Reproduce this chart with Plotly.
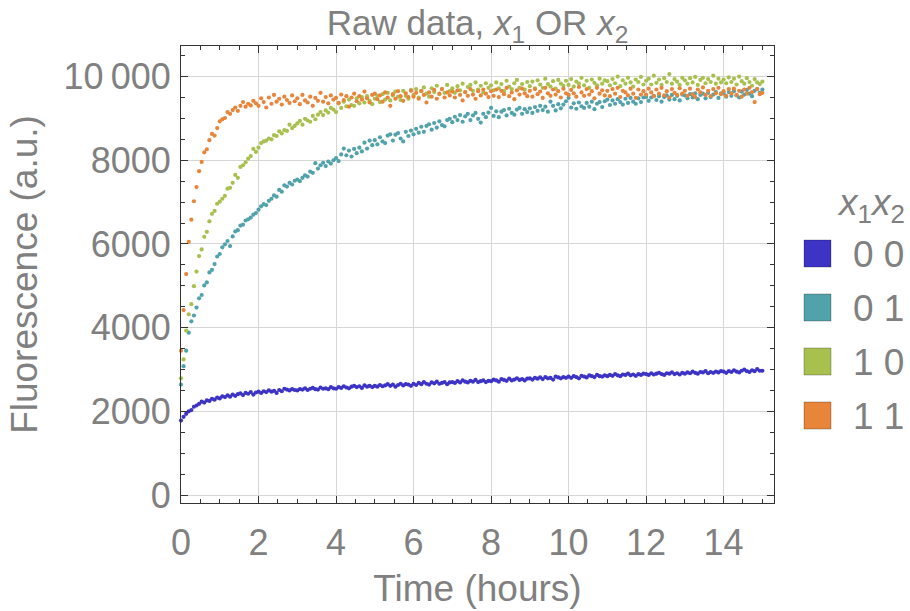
import plotly.graph_objects as go

# ---------------- data ----------------
# samples every 4 minutes (1/15 h) from 0 to 15 h
series_names = ["0 0", "0 1", "1 0", "1 1"]
colors = ["#3d33c4", "#52a2ac", "#a8c04e", "#e8853a"]

fluor_00 = [
    1780, 1870, 1940, 2000, 2030, 2110, 2140, 2180, 2230, 2210, 2260, 2250, 2300, 2280, 2330,
    2310, 2360, 2340, 2380, 2350, 2400, 2370, 2410, 2430, 2390, 2440, 2420, 2460, 2400, 2450,
    2470, 2440, 2480, 2460, 2500, 2470, 2490, 2440, 2510, 2480, 2540, 2520, 2500, 2530, 2510,
    2500, 2530, 2520, 2550, 2510, 2540, 2560, 2530, 2520, 2570, 2540, 2550, 2530, 2580, 2550,
    2540, 2580, 2560, 2600, 2570, 2550, 2590, 2610, 2580, 2600, 2560, 2620, 2590, 2610, 2580,
    2610, 2590, 2630, 2600, 2620, 2650, 2610, 2640, 2590, 2630, 2660, 2620, 2650, 2640, 2610,
    2660, 2630, 2680, 2650, 2700, 2660, 2640, 2690, 2670, 2710, 2660, 2680, 2700, 2650, 2690,
    2700, 2680, 2720, 2690, 2740, 2710, 2690, 2730, 2710, 2750, 2700, 2720, 2740, 2700, 2730,
    2720, 2760, 2740, 2710, 2770, 2750, 2730, 2780, 2740, 2760, 2790, 2750, 2770, 2740, 2780,
    2790, 2760, 2800, 2780, 2810, 2770, 2820, 2790, 2800, 2760, 2830, 2810, 2790, 2820, 2800,
    2830, 2800, 2840, 2820, 2790, 2850, 2830, 2810, 2860, 2840, 2820, 2870, 2840, 2830, 2860,
    2840, 2870, 2850, 2890, 2860, 2840, 2880, 2870, 2900, 2860, 2880, 2850, 2890, 2870, 2900,
    2890, 2870, 2910, 2880, 2900, 2920, 2890, 2870, 2910, 2900, 2930, 2890, 2910, 2880, 2920,
    2900, 2930, 2910, 2950, 2920, 2900, 2940, 2930, 2960, 2910, 2940, 2920, 2950, 2930, 2960,
    2950, 2920, 2960, 2940, 2980, 2950, 2930, 2970, 3000, 2960, 2940, 2980, 2960, 3010, 2970,
    2970,
]

fluor_01 = [
    2640, 3080, 3450, 3880, 4150, 4290, 4480, 4700, 4780, 5010, 5080, 5320, 5380, 5520, 5700,
    5760, 5920, 5990, 6070, 5950, 6180, 6300, 6330, 6440, 6460, 6560, 6590, 6630, 6700, 6740,
    6820, 6900, 6950, 6930, 7030, 7080, 7160, 7130, 7290, 7250, 7400, 7370, 7460, 7420, 7510,
    7540, 7500, 7580, 7640, 7610, 7730, 7700, 7930, 7800, 7880, 7940, 7860, 7970, 7920, 8000,
    8050, 7980, 8140, 8280, 8120, 8230, 8090, 8270, 8170, 8300, 8210, 8420, 8280, 8470, 8360,
    8480, 8380, 8550, 8450, 8410, 8590, 8620, 8470, 8610, 8650, 8520, 8450, 8680, 8580, 8710,
    8620, 8750, 8660, 8800, 8680, 8820, 8860, 8730, 8890, 8780, 8930, 8840, 8810, 8960, 8990,
    8910, 9040, 8960, 9080, 8920, 9050, 9110, 8960, 9070, 9130, 8990, 8900, 9110, 9030, 9140,
    9250, 9060, 9170, 9030, 9160, 9200, 9070, 9230, 9130, 9090, 9210, 9250, 9110, 9220, 9150,
    9240, 9130, 9270, 9180, 9300, 9200, 9280, 9160, 9400, 9300, 9190, 9340, 9240, 9330, 9410,
    9490, 9260, 9360, 9230, 9380, 9290, 9250, 9370, 9280, 9400, 9220, 9350, 9390, 9270, 9410,
    9450, 9320, 9430, 9350, 9460, 9390, 9330, 9470, 9370, 9490, 9400, 9350, 9480, 9390, 9500,
    9510, 9420, 9500, 9540, 9440, 9530, 9400, 9510, 9550, 9450, 9560, 9460, 9540, 9430, 9570,
    9550, 9480, 9580, 9500, 9600, 9460, 9560, 9590, 9480, 9610, 9510, 9570, 9630, 9490, 9600,
    9600, 9520, 9630, 9540, 9650, 9550, 9500, 9640, 9570, 9680, 9590, 9530, 9660, 9700, 9610,
    9690,
]

fluor_10 = [
    2790, 3240, 3930, 4320, 4560, 4990, 5340, 5710, 5870, 6170, 6290, 6540, 6720, 6790, 6960,
    7010, 7080, 7150, 7320, 7340, 7460, 7650, 7580, 7840, 7880, 7950, 8040, 8100, 8270, 8200,
    8300, 8410, 8450, 8470, 8520, 8500, 8600, 8580, 8690, 8640, 8720, 8700, 8850, 8770, 8820,
    8880, 8940, 8850, 8990, 8950, 8920, 9060, 8980, 9090, 9150, 9080, 9190, 9140, 9250, 9210,
    9150, 9360, 9250, 9400, 9290, 9450, 9320, 9300, 9480, 9360, 9510, 9380, 9530, 9420, 9340,
    9470, 9540, 9390, 9580, 9450, 9610, 9430, 9550, 9640, 9520, 9440, 9660, 9540, 9470, 9680,
    9560, 9700, 9500, 9650, 9740, 9590, 9520, 9720, 9630, 9780, 9580, 9700, 9610, 9800, 9650,
    9720, 9610, 9770, 9670, 9830, 9630, 9750, 9800, 9660, 9860, 9690, 9780, 9620, 9840, 9730,
    9790, 9670, 9860, 9720, 9820, 9650, 9900, 9760, 9700, 9840, 9920, 9730, 9820, 9690, 9870,
    9770, 9880, 9720, 9910, 9810, 9730, 9950, 9820, 9760, 9890, 9710, 9920, 9830, 9780, 9900,
    9800, 9940, 9760, 9880, 9830, 9970, 9790, 9900, 9730, 9930, 9850, 9790, 9950, 9830, 9910,
    9890, 9790, 9940, 9840, 10000, 9770, 9910, 9830, 9970, 9860, 9760, 9930, 9870, 9990, 9810,
    9900, 9950, 9810, 10020, 9850, 9930, 9800, 9960, 9870, 10060, 9830, 9940, 9880, 9800, 9970,
    9910, 9830, 9960, 9860, 9990, 9800, 9920, 9970, 9840, 9940, 9870, 10020, 9830, 9950, 9860,
    9930, 9840, 9980, 9870, 9950, 9810, 10000, 9890, 9830, 9960, 9870, 9780, 9940, 9860, 9820,
    9880,
]

fluor_11 = [
    3450, 4420, 5280, 6050, 6580, 7020, 7360, 7740, 7960, 8190, 8260, 8480, 8630, 8590, 8770,
    8930, 8980, 9010, 9150, 9110, 9200, 9260, 9180, 9300, 9390, 9280, 9350, 9310, 9420, 9360,
    9300, 9480, 9390, 9260, 9500, 9350, 9560, 9400, 9470, 9330, 9520, 9440, 9370, 9550, 9410,
    9480, 9340, 9560, 9430, 9380, 9520, 9300, 9490, 9420, 9610, 9400, 9510, 9360, 9550, 9450,
    9490, 9370, 9570, 9440, 9530, 9280, 9500, 9590, 9410, 9530, 9450, 9640, 9480, 9380, 9560,
    9590, 9460, 9550, 9400, 9620, 9500, 9300, 9580, 9470, 9650, 9530, 9420, 9600, 9510, 9660,
    9520, 9610, 9470, 9660, 9560, 9380, 9620, 9520, 9680, 9470, 9590, 9700, 9500, 9620, 9550,
    9640, 9500, 9670, 9560, 9430, 9630, 9540, 9700, 9570, 9470, 9650, 9550, 9690, 9590, 9510,
    9650, 9540, 9690, 9510, 9660, 9580, 9730, 9530, 9620, 9460, 9670, 9570, 9710, 9600, 9530,
    9660, 9520, 9700, 9580, 9640, 9490, 9730, 9600, 9540, 9690, 9570, 9650, 9500, 9710, 9600,
    9560, 9680, 9600, 9520, 9750, 9620, 9540, 9700, 9570, 9650, 9480, 9730, 9590, 9670, 9550,
    9660, 9530, 9700, 9590, 9730, 9510, 9660, 9620, 9550, 9710, 9590, 9490, 9690, 9570, 9650,
    9570, 9710, 9620, 9530, 9690, 9590, 9730, 9550, 9650, 9500, 9700, 9610, 9560, 9720, 9590,
    9660, 9540, 9710, 9580, 9510, 9690, 9620, 9740, 9560, 9660, 9530, 9700, 9600, 9730, 9580,
    9650, 9540, 9700, 9600, 9710, 9560, 9660, 9520, 9690, 9590, 9730, 9630, 9390, 9700, 9580,
    9610,
]

samples_per_hour = 15
x_ticks = [0, 2, 4, 6, 8, 10, 12, 14]
y_ticks = [0, 2000, 4000, 6000, 8000, 10000]
y_ticktext = ["0", "2000", "4000", "6000", "8000", "10\u2009000"]

# ---------------- figure ----------------
FONT = "Liberation Sans, Arial, Helvetica, sans-serif"
GRAY = "#808080"
AX = "#333333"

fig = go.Figure()
all_series = [fluor_00, fluor_01, fluor_10, fluor_11]
for name, vals, col in zip(series_names, all_series, colors):
    fig.add_trace(go.Scatter(
        x=[i / samples_per_hour for i in range(len(vals))],
        y=vals,
        mode="markers",
        name=name,
        marker=dict(size=4.2, color=col, line=dict(width=0)),
        cliponaxis=False,
        showlegend=False,
    ))

W, H = 910, 611
L, R, T, B = 181, 136, 46, 108
pw, ph = W - L - R, H - T - B


def px_x(px):
    return (px - L) / pw


def px_y(py):
    return (H - B - py) / ph


axis_common = dict(
    showline=True, linecolor=AX, linewidth=1, mirror="ticks",
    ticks="inside", ticklen=7, tickwidth=1, tickcolor=AX,
    showgrid=True, gridcolor="#d6d6d6", gridwidth=1,
    zeroline=False, automargin=False,
    tickfont=dict(family=FONT, size=36, color=GRAY),
)

fig.update_layout(
    width=W, height=H,
    margin=dict(l=L, r=R, t=T, b=B, autoexpand=False),
    paper_bgcolor="white", plot_bgcolor="white",
    font=dict(family=FONT, color=GRAY),
    title=dict(
        text="Raw data, <i>x</i><sub>1</sub> OR <i>x</i><sub>2</sub>",
        x=0.5, xref="paper", xanchor="center",
        y=1 - 23 / H, yref="container", yanchor="middle",
        font=dict(family=FONT, size=35, color=GRAY),
    ),
    xaxis=dict(
        range=[0, 15.3],
        tickmode="array", tickvals=x_ticks,
        ticklabelstandoff=8,
        minor=dict(ticks="inside", ticklen=4, tickcolor=AX, dtick=0.5, tick0=0, showgrid=False),
        title=dict(text="Time (hours)", standoff=12, font=dict(family=FONT, size=37, color=GRAY)),
        **axis_common,
    ),
    yaxis=dict(
        range=[-190, 10730],
        tickmode="array", tickvals=y_ticks, ticktext=y_ticktext,
        ticklabelstandoff=2,
        minor=dict(ticks="inside", ticklen=4, tickcolor=AX, dtick=500, tick0=0, showgrid=False),
        title=dict(text="Fluorescence (a.u.)", standoff=14, font=dict(family=FONT, size=37, color=GRAY)),
        **axis_common,
    ),
)

# ---------------- legend (built from series names / colours) ----------------
shapes = []
annotations = []
sq_left, sq_right, sq_size, first_top, step = 804, 831, 27, 240, 54
for i, (name, col) in enumerate(zip(series_names, colors)):
    top = first_top + i * step
    shapes.append(dict(
        type="rect", xref="paper", yref="paper",
        x0=px_x(sq_left), x1=px_x(sq_right),
        y0=px_y(top + sq_size), y1=px_y(top),
        fillcolor=col, line=dict(color="rgba(0,0,0,0.25)", width=1),
    ))
    annotations.append(dict(
        text=name, xref="paper", yref="paper",
        x=px_x(851), y=px_y(top + sq_size / 2 + 1),
        xanchor="left", yanchor="middle", showarrow=False,
        font=dict(family=FONT, size=37, color=GRAY),
    ))
annotations.append(dict(
    text="<i>x</i><sub>1</sub><i>x</i><sub>2</sub>", xref="paper", yref="paper",
    x=px_x(871), y=px_y(205), xanchor="center", yanchor="middle", showarrow=False,
    font=dict(family=FONT, size=37, color=GRAY),
))
fig.update_layout(shapes=shapes, annotations=annotations)

fig.write_html("out.html")
